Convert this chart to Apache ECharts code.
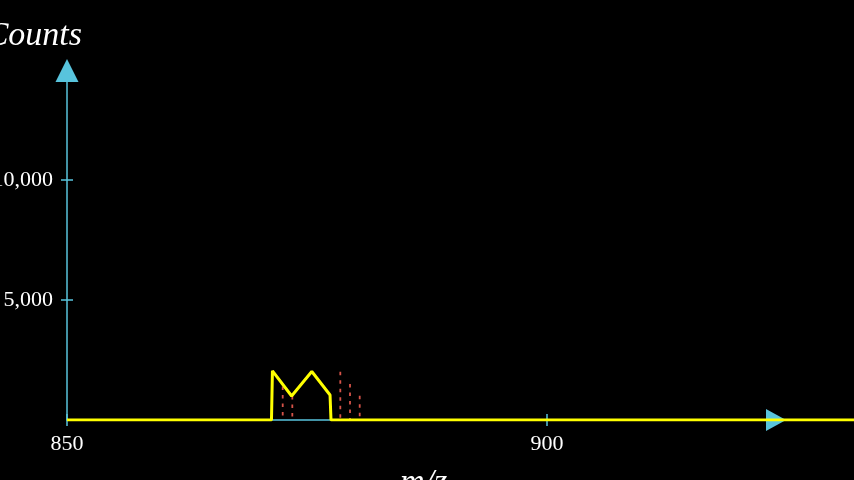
<!DOCTYPE html>
<html>
<head>
<meta charset="utf-8">
<script src="https://cdn.jsdelivr.net/npm/echarts@6/dist/echarts.min.js"></script>
<style>
  html, body { margin: 0; background: #000; }
  #chart { width: 854px; height: 480px; }
</style>
</head>
<body>
<div id="chart"></div>
<script>
// tick positions
const xTicks = [850, 900];
const yTicks = [5000, 10000];

// measured spectrum trace (m/z, counts)
const traceMz = [850, 871.3, 871.4, 873.4, 875.5, 877.4, 877.5, 932];
const traceCounts = [0, 0, 2050, 1000, 2020, 1040, 0, 0];

// theoretical peaks (dashed sticks)
const peakMz = [872.47, 873.47, 878.47, 879.48, 880.49];
const peakCounts = [1400, 1000, 2010, 1500, 1010];

const AXIS = "#58C4DD";
const FONT = "Liberation Serif";

const chart = echarts.init(document.getElementById("chart"));

const tickOnly = (values, inside) => ({
  show: true,
  customValues: values,
  inside: inside,
  length: 6,
  lineStyle: { color: AXIS, width: 1.5 },
});

const option = {
  backgroundColor: "#000",
  animation: false,
  grid: { left: 67, right: 0, top: 70.5, bottom: 60, containLabel: false, outerBoundsMode: "none" },
  xAxis: [
    {
      type: "value",
      min: 850,
      max: 931.98,
      interval: 50,
      splitLine: { show: false },
      axisLine: {
        show: true,
        onZero: false,
        symbol: ["none", "triangle"],
        symbolSize: [22, 20],
        symbolOffset: [0, -78],
        lineStyle: { color: AXIS, width: 1.5 },
      },
      axisTick: tickOnly(xTicks, false),
      axisLabel: {
        customValues: xTicks,
        color: "#fff",
        fontFamily: FONT,
        fontSize: 22,
        margin: 13,
      },
    },
    {
      type: "value",
      position: "bottom",
      min: 850,
      max: 931.98,
      interval: 50,
      splitLine: { show: false },
      axisLine: { show: false },
      axisLabel: { show: false },
      axisTick: tickOnly(xTicks, true),
    },
  ],
  yAxis: [
    {
      type: "value",
      min: 0,
      max: 14562.5,
      interval: 5000,
      splitLine: { show: false },
      axisLine: {
        show: true,
        onZero: false,
        symbol: ["none", "triangle"],
        symbolSize: [23, 23],
        lineStyle: { color: AXIS, width: 1.5 },
      },
      axisTick: tickOnly(yTicks, false),
      axisLabel: {
        customValues: yTicks,
        color: "#fff",
        fontFamily: FONT,
        fontSize: 22,
        margin: 14,
        formatter: (v) => v.toLocaleString("en-US"),
      },
    },
    {
      type: "value",
      position: "left",
      min: 0,
      max: 14562.5,
      interval: 5000,
      splitLine: { show: false },
      axisLine: { show: false },
      axisLabel: { show: false },
      axisTick: tickOnly(yTicks, true),
    },
  ],
  graphic: [
    {
      type: "text",
      right: 854 - 82,
      top: 19,
      style: { text: "Counts", fill: "#fff", font: "italic 34px 'Liberation Serif'" },
    },
    {
      type: "text",
      left: 400,
      top: 466,
      style: { text: "m/z", fill: "#fff", font: "italic 34px 'Liberation Serif'" },
    },
  ],
  series: [
    {
      type: "custom",
      z: 2,
      clip: false,
      data: peakMz.map((m, i) => [m, peakCounts[i]]),
      renderItem: (params, api) => {
        // draw from the top down so the dash pattern starts at the peak
        const top = api.coord([api.value(0), api.value(1)]);
        const base = api.coord([api.value(0), 0]);
        return {
          type: "line",
          shape: { x1: top[0], y1: top[1], x2: base[0], y2: base[1] },
          style: { stroke: "#FC6255", lineWidth: 1.8, lineDash: [3.5, 5], opacity: 0.85 },
        };
      },
    },
    {
      type: "line",
      z: 3,
      symbol: "none",
      data: traceMz.map((m, i) => [m, traceCounts[i]]),
      lineStyle: { color: "#FFFF00", width: 3 },
    },
  ],
};

chart.setOption(option);
</script>
</body>
</html>
